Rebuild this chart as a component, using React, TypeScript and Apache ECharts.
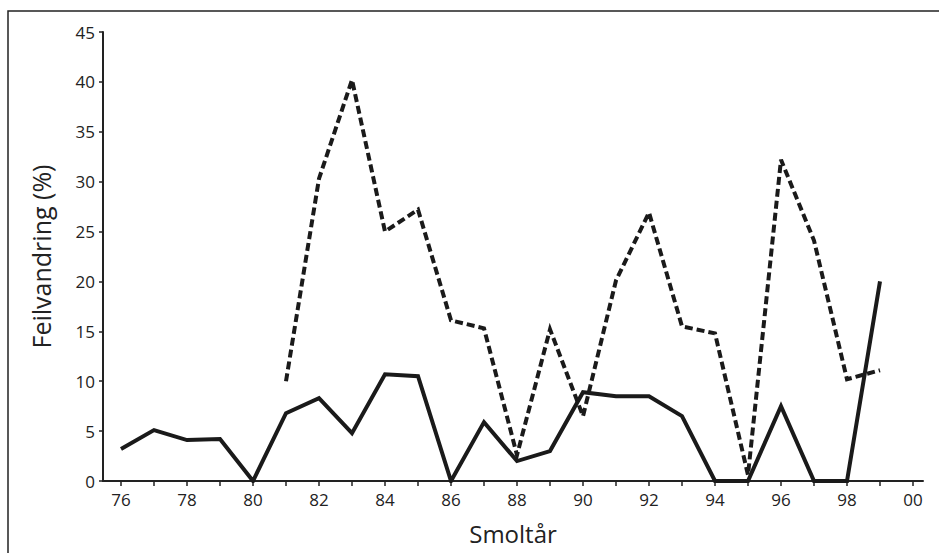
import React, { useEffect, useRef } from "react";
import * as echarts from "echarts";

const years = [76, 77, 78, 79, 80, 81, 82, 83, 84, 85, 86, 87, 88, 89, 90, 91, 92, 93, 94, 95, 96, 97, 98, 99];
const solidValues = [3.2, 5.1, 4.1, 4.2, 0, 6.8, 8.3, 4.8, 10.7, 10.5, 0, 5.9, 2.0, 3.0, 8.9, 8.5, 8.5, 6.5, 0, 0, 7.5, 0, 0, 20];
const dashedYears = [81, 82, 83, 84, 85, 86, 87, 88, 89, 90, 91, 92, 93, 94, 95, 96, 97, 98, 99];
const dashedValues = [10, 30.3, 40.2, 25, 27.2, 16.1, 15.3, 2.6, 15.2, 6.5, 20.1, 26.9, 15.5, 14.8, 0.6, 32.2, 24.1, 10.2, 11.1];
const xTicks = [76, 77, 78, 79, 80, 81, 82, 83, 84, 85, 86, 87, 88, 89, 90, 91, 92, 93, 94, 95, 96, 97, 98, 99, 100];
const xLabels = [76, 78, 80, 82, 84, 86, 88, 90, 92, 94, 96, 98, 100];
const xName = "Smoltår";
const yName = "Feilvandring (%)";

export default function App() {
  const ref = useRef<HTMLDivElement>(null);
  useEffect(() => {
    if (!ref.current) return;
    const chart = echarts.init(ref.current, null, { renderer: "svg" });
    const font = "'Open Sans', 'Noto Sans', sans-serif";
    chart.setOption({
      animation: false,
      backgroundColor: "#ffffff",
      textStyle: { fontFamily: font },
      grid: { left: 103, right: 16, top: 32, bottom: 72, containLabel: false },
      graphic: [
        {
          type: "rect",
          shape: { x: 8, y: 11, width: 950, height: 560 },
          style: { fill: "none", stroke: "#222", lineWidth: 1.5 },
          silent: true,
        },
      ],
      xAxis: {
        type: "value",
        min: 76 - 18 / 33,
        max: 100 + 10 / 33,
        name: xName,
        nameLocation: "middle",
        nameGap: 40,
        nameTextStyle: { fontSize: 24, color: "#222", fontFamily: font },
        splitLine: { show: false },
        axisLine: { show: true, onZero: false, lineStyle: { color: "#222", width: 2 } },
        axisTick: {
          show: true,
          customValues: xTicks,
          length: 5,
          lineStyle: { color: "#222", width: 1.5 },
        },
        axisLabel: {
          show: true,
          customValues: xLabels,
          formatter: (v: number) => String(Math.round(v) % 100).padStart(2, "0"),
          fontSize: 17,
          fontFamily: font,
          color: "#222",
          margin: 10,
        },
      },
      yAxis: {
        type: "value",
        min: 0,
        max: 45,
        interval: 5,
        name: yName,
        nameLocation: "middle",
        nameGap: 50,
        nameRotate: 90,
        nameTextStyle: { fontSize: 25, color: "#222", fontFamily: font },
        splitLine: { show: false },
        axisLine: { show: true, lineStyle: { color: "#222", width: 2 } },
        axisTick: { show: true, length: 4, lineStyle: { color: "#222", width: 1.5 } },
        axisLabel: { show: true, fontSize: 17, fontFamily: font, color: "#222", margin: 8 },
      },
      series: [
        {
          type: "line",
          data: dashedYears.map((y, i) => [y, dashedValues[i]]),
          showSymbol: false,
          symbol: "none",
          lineStyle: { color: "#1a1a1a", width: 4, type: [8, 4], cap: "butt", join: "miter" },
        },
        {
          type: "line",
          data: years.map((y, i) => [y, solidValues[i]]),
          showSymbol: false,
          symbol: "none",
          lineStyle: { color: "#1a1a1a", width: 4, type: "solid", cap: "butt", join: "miter" },
        },
      ],
    });
    return () => chart.dispose();
  }, []);
  return (
    <div
      ref={ref}
      style={{ position: "fixed", left: 0, top: 0, width: 939, height: 553, background: "#fff" }}
    />
  );
}
